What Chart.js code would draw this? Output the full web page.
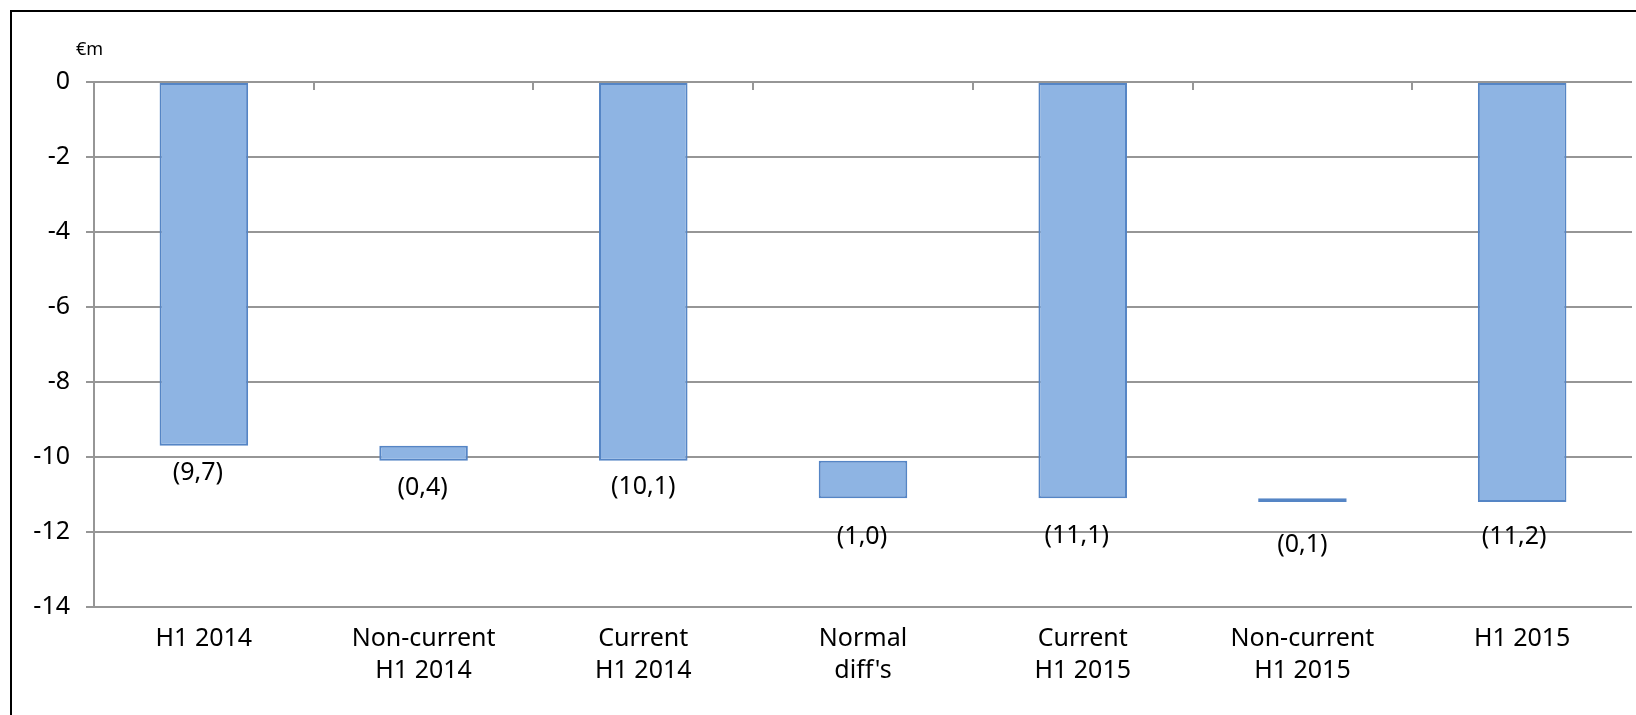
<!DOCTYPE html>
<html>
<head>
<meta charset="utf-8">
<title>Résultat H1 2014 → H1 2015</title>
<script src="https://cdn.jsdelivr.net/npm/chart.js@4/dist/chart.umd.min.js"></script>
<style>
  html, body { margin: 0; padding: 0; background: #ffffff; }
  #wrap { width: 1636px; height: 715px; position: relative; }
</style>
</head>
<body>
<div id="wrap"><canvas id="chart" width="1636" height="715"></canvas></div>
<script>
// Bridge categories (two-line labels)
const categories = [
  ['H1 2014'],
  ['Non-current', 'H1 2014'],
  ['Current', 'H1 2014'],
  ['Normal', "diff's"],
  ['Current', 'H1 2015'],
  ['Non-current', 'H1 2015'],
  ['H1 2015']
];

// Floating bar segments, €m: where each bar starts and where it ends
const barStart = [0, -9.7, 0, -10.1, 0, -11.1, 0];
const barEnd   = [-9.7, -10.1, -10.1, -11.1, -11.1, -11.2, -11.2];

// Value axis
const yMin = -14;
const yMax = 0;
const yStep = 2;
const unitLabel = '€m';

// Nudges for the value labels under each bar (px: dx, dy below the bar's lower edge)
const labelNudgeX = [-6, -1, 0, -1, -6, 0, -8];
const labelNudgeY = [27, 27, 26, 39, 38, 43, 35];

const FONT = '"Noto Sans", "Open Sans", sans-serif';
const GRID = '#969696';
const TEXT = '#000000';

const segments = barStart.map((s, i) => [s, barEnd[i]]);

// "(9,7)" style: magnitude with decimal comma in parentheses
function fmtValue(i) {
  const v = Math.abs(barEnd[i] - barStart[i]);
  return '(' + v.toFixed(1).replace('.', ',') + ')';
}

const framePlugin = {
  id: 'frame',
  beforeDraw(chart) {
    const ctx = chart.ctx;
    ctx.save();
    ctx.fillStyle = '#ffffff';
    ctx.fillRect(0, 0, chart.width, chart.height);
    // outer frame (left and top edges)
    ctx.fillStyle = '#000000';
    ctx.fillRect(10, 10, chart.width - 10, 2);
    ctx.fillRect(10, 10, 2, chart.height - 10);
    ctx.restore();
  },
  afterDraw(chart) {
    const ctx = chart.ctx;
    const x = chart.scales.x;
    const y = chart.scales.y;
    ctx.save();
    // unit caption above the value axis
    ctx.fillStyle = TEXT;
    ctx.font = '18px ' + FONT;
    ctx.textAlign = 'left';
    ctx.textBaseline = 'middle';
    ctx.fillText(unitLabel, 76, 50);

    // category boundary ticks hanging from the zero line
    const y0 = y.getPixelForValue(0);
    ctx.strokeStyle = GRID;
    ctx.lineWidth = 2;
    for (let i = 0; i < categories.length - 1; i++) {
      const bx = Math.round((x.getPixelForValue(i) + x.getPixelForValue(i + 1)) / 2);
      ctx.beginPath();
      ctx.moveTo(bx, y0);
      ctx.lineTo(bx, y0 + 8);
      ctx.stroke();
    }

    // value labels below each bar
    ctx.fillStyle = TEXT;
    ctx.font = '25px ' + FONT;
    ctx.textAlign = 'center';
    ctx.textBaseline = 'middle';
    const meta = chart.getDatasetMeta(0);
    meta.data.forEach((bar, i) => {
      const low = Math.min(barStart[i], barEnd[i]);
      const py = y.getPixelForValue(low) + labelNudgeY[i];
      ctx.fillText(fmtValue(i), bar.x + labelNudgeX[i], py);
    });
    ctx.restore();
  }
};

new Chart(document.getElementById('chart'), {
  type: 'bar',
  data: {
    labels: categories,
    datasets: [{
      data: segments,
      backgroundColor: '#8eb4e3',
      borderColor: '#5585c5',
      borderWidth: 2,
      borderSkipped: false,
      categoryPercentage: 1.0,
      barPercentage: 0.403
    }]
  },
  options: {
    responsive: false,
    animation: false,
    devicePixelRatio: 1,
    layout: { padding: { top: 82, left: 0, right: 4, bottom: 0 } },
    plugins: {
      legend: { display: false },
      tooltip: { enabled: false },
      title: { display: false }
    },
    scales: {
      x: {
        offset: true,
        grid: { display: false, drawTicks: false },
        border: { display: false },
        ticks: {
          color: TEXT,
          padding: 16,
          maxRotation: 0,
          autoSkip: false,
          font: { family: FONT, size: 25, lineHeight: 1.28 }
        },
        afterFit(scale) { scale.height = 108; }
      },
      y: {
        min: yMin,
        max: yMax,
        grid: {
          color: GRID,
          lineWidth: 2,
          drawTicks: true,
          tickLength: 8,
          tickColor: GRID
        },
        border: { display: true, color: GRID, width: 2 },
        ticks: {
          stepSize: yStep,
          color: TEXT,
          padding: 16,
          font: { family: FONT, size: 25 },
          callback: (v) => String(v)
        },
        afterFit(scale) { scale.width = 94; }
      }
    }
  },
  plugins: [framePlugin]
});
</script>
</body>
</html>
